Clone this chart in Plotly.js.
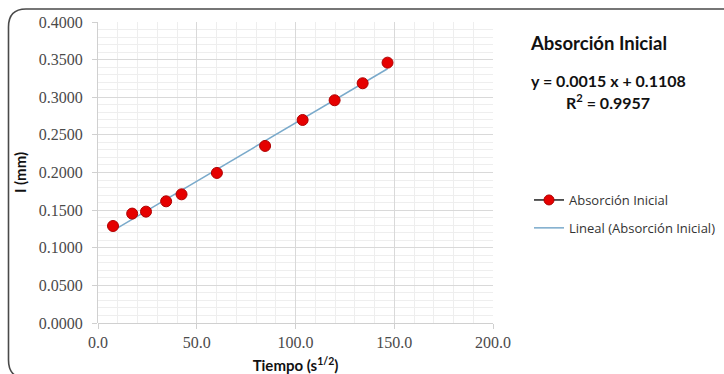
<!DOCTYPE html>
<html>
<head>
<meta charset="utf-8">
<script src="https://cdn.plot.ly/plotly-3.0.1.min.js"></script>
<style>
  html, body { margin: 0; padding: 0; background: #fff; overflow: hidden; }
  #chart { position: absolute; left: 0; top: 0; width: 724px; height: 374px; }
</style>
</head>
<body>
<div id="chart"></div>
<script>
// Data
const tiempo = [7.6, 17.3, 24.3, 34.5, 42.3, 60.2, 84.6, 103.6, 119.8, 134.0, 146.6];
const absorcion = [0.1289, 0.1454, 0.1480, 0.1617, 0.1710, 0.1994, 0.2353, 0.2698, 0.2960, 0.3186, 0.3460];
const eqSlopeText = '0.0015';
const eqInterceptText = '0.1108';
const r2Text = '0.9957';
const seriesName = 'Absorción Inicial';
const trendName = 'Lineal (Absorción Inicial)';

// least-squares trendline through the data (as the spreadsheet did)
const n = tiempo.length;
const mx = tiempo.reduce((a, b) => a + b, 0) / n;
const my = absorcion.reduce((a, b) => a + b, 0) / n;
let sxy = 0, sxx = 0;
for (let i = 0; i < n; i++) { sxy += (tiempo[i] - mx) * (absorcion[i] - my); sxx += (tiempo[i] - mx) ** 2; }
const slope = sxy / sxx, intercept = my - slope * mx;
const trendX = [Math.min(...tiempo), Math.max(...tiempo)];
const trendY = trendX.map(x => slope * x + intercept);

const traces = [
  { x: trendX, y: trendY, mode: 'lines', name: trendName, showlegend: false,
    line: { color: '#7aaacb', width: 1.5 }, hoverinfo: 'skip' },
  { x: tiempo, y: absorcion, mode: 'markers', name: seriesName, showlegend: false,
    marker: { color: '#e60000', size: 11, line: { color: '#b00000', width: 1 } } },
  { x: [null], y: [null], mode: 'lines+markers', name: seriesName, legendgroup: 'a',
    marker: { color: '#e60000', size: 10, line: { color: '#b00000', width: 1 } },
    line: { color: '#222', width: 1.5 } },
  { x: [null], y: [null], mode: 'lines', name: trendName, legendgroup: 'b',
    line: { color: '#7aaacb', width: 1.5 } }
];

// chart frame (rounded corner), positioned in pixels and converted to paper units
const M = { l: 98, r: 231, t: 22, b: 51 };
const W = 724, H = 374;
const pw = W - M.l - M.r, ph = H - M.t - M.b;
const px = v => (v - M.l) / pw, py = v => (H - M.b - v) / ph;
const framePath = 'M ' + px(26) + ' ' + py(378) + ' Q ' + px(8.5) + ' ' + py(378) + ' ' + px(8.5) + ' ' + py(360) +
  ' L ' + px(8.5) + ' ' + py(27) + ' Q ' + px(8.5) + ' ' + py(9) + ' ' + px(26) + ' ' + py(9) +
  ' L ' + px(780) + ' ' + py(9);

const tickFont = { family: 'Liberation Serif, DejaVu Serif, serif', size: 16, color: '#4a4a4a' };
const boldFont = (s) => ({ family: 'Lato, Liberation Sans, sans-serif', size: s, color: '#111', weight: 'bold' });
const layout = {
  width: W, height: H,
  margin: { l: M.l, r: M.r, t: M.t, b: M.b, pad: 0, autoexpand: false },
  paper_bgcolor: '#fff', plot_bgcolor: '#fff',
  showlegend: true,
  legend: { xref: 'container', yref: 'container', x: 529 / W, xanchor: 'left', y: 1 - 214 / H, yanchor: 'middle',
            tracegroupgap: 8,
            font: { family: 'Open Sans, Noto Sans, sans-serif', size: 13, color: '#333' },
            bgcolor: 'rgba(0,0,0,0)', itemwidth: 30 },
  xaxis: {
    range: [0, 200], dtick: 50, tickformat: '.1f', tickfont: tickFont, automargin: false,
    showgrid: true, gridcolor: '#d9d9d9', gridwidth: 1,
    minor: { dtick: 10, showgrid: true, gridcolor: '#eeeeee', gridwidth: 1 },
    ticks: 'outside', ticklen: 5, tickcolor: '#d0d0d0',
    showline: false, zeroline: true, zerolinecolor: '#d0d0d0',
    title: { text: 'Tiempo (s<sup>1/2</sup>)', standoff: 10, font: boldFont(15) }
  },
  yaxis: {
    range: [0, 0.4], dtick: 0.05, tickformat: '.4f', tickfont: tickFont, automargin: false,
    showgrid: true, gridcolor: '#d9d9d9', gridwidth: 1,
    minor: { dtick: 0.01, showgrid: true, gridcolor: '#eeeeee', gridwidth: 1 },
    ticks: 'outside', ticklen: 5, tickcolor: '#d0d0d0', ticklabelstandoff: 6,
    showline: true, linecolor: '#d0d0d0', zeroline: true, zerolinecolor: '#d0d0d0',
    title: { text: 'I (mm)', standoff: 8, font: boldFont(15) }
  },
  shapes: [
    { type: 'path', xref: 'paper', yref: 'paper', path: framePath, line: { color: '#4a4a4a', width: 1.6 } }
  ],
  annotations: [
    { xref: 'paper', yref: 'paper', x: px(528), y: py(43.5), xanchor: 'left', yanchor: 'middle', showarrow: false,
      text: '<b>' + seriesName + '</b>', font: boldFont(18.5) },
    { xref: 'paper', yref: 'paper', x: px(608.5), y: py(80), xanchor: 'center', yanchor: 'middle', showarrow: false,
      text: '<b>y = ' + eqSlopeText + ' x + ' + eqInterceptText + '</b>', font: boldFont(16) },
    { xref: 'paper', yref: 'paper', x: px(607.5), y: py(101), xanchor: 'center', yanchor: 'middle', showarrow: false,
      text: '<b>R<sup>2</sup> = ' + r2Text + '</b>', font: boldFont(16) }
  ]
};

Plotly.newPlot('chart', traces, layout, { displayModeBar: false, staticPlot: true });
</script>
</body>
</html>
